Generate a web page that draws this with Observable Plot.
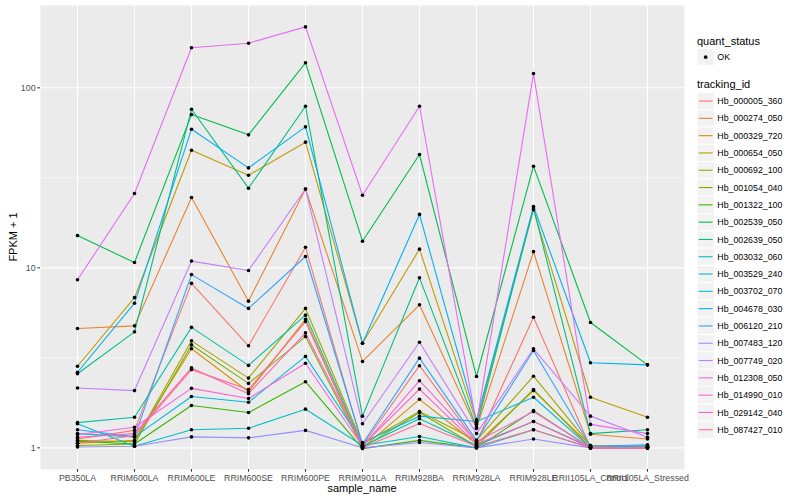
<!DOCTYPE html>
<html><head><meta charset="utf-8">
<script src="https://cdn.jsdelivr.net/npm/d3@7"></script>
<script src="https://cdn.jsdelivr.net/npm/@observablehq/plot@0.6"></script>
<style>body{margin:0;background:#fff}#chart{width:800px;height:500px}</style>
</head><body><div id="chart"></div>
<script>
const samples = ["PB350LA","RRIM600LA","RRIM600LE","RRIM600SE","RRIM600PE","RRIM901LA","RRIM928BA","RRIM928LA","RRIM928LE","RRII105LA_Control","RRII105LA_Stressed"];
const trackingIds = ["Hb_000005_360","Hb_000274_050","Hb_000329_720","Hb_000654_050","Hb_000692_100","Hb_001054_040","Hb_001322_100","Hb_002539_050","Hb_002639_050","Hb_003032_060","Hb_003529_240","Hb_003702_070","Hb_004678_030","Hb_006120_210","Hb_007483_120","Hb_007749_020","Hb_012308_050","Hb_014990_010","Hb_029142_040","Hb_087427_010"];
const colors = ["#F8766D","#EA8331","#D89000","#C09B00","#A3A500","#7CAE00","#39B600","#00BB4E","#00BF7D","#00C1A3","#00BFC4","#00BAE0","#00B0F6","#35A2FF","#9590FF","#C77CFF","#E76BF3","#FA62DB","#FF62BC","#FF6C91"];

const Hb_000005_360 = [1.12, 1.25, 8.2, 3.69, 13.0, 1.03, 2.86, 1.07, 5.31, 1.0, 1.0];
const Hb_000274_050 = [4.6, 4.76, 24.6, 6.53, 27.4, 3.02, 6.23, 1.28, 12.3, 1.19, 1.12];
const Hb_000329_720 = [1.06, 1.1, 3.55, 2.05, 5.17, 1.0, 1.86, 1.05, 2.08, 1.03, 1.02];
const Hb_000654_050 = [2.84, 6.83, 45, 32.7, 49.9, 3.81, 12.7, 1.38, 21.0, 1.91, 1.48];
const Hb_000692_100 = [1.1, 1.08, 3.93, 2.44, 5.95, 1.05, 1.59, 1.1, 2.5, 1.03, 1.0];
const Hb_001054_040 = [1.03, 1.05, 3.73, 2.28, 4.15, 1.0, 1.57, 1.02, 2.11, 1.0, 1.0];
const Hb_001322_100 = [1.09, 1.05, 1.72, 1.57, 2.33, 0.99, 1.1, 1.0, 1.61, 1.0, 1.0];
const Hb_002539_050 = [15.1, 10.7, 71, 54.8, 137.7, 14.06, 42.6, 2.49, 36.7, 4.97, 2.89];
const Hb_002639_050 = [2.58, 4.41, 76, 27.7, 79, 1.5, 8.8, 1.3, 21.5, 1.2, 1.26];
const Hb_003032_060 = [1.38, 1.48, 4.67, 2.87, 5.46, 1.02, 1.45, 1.03, 1.4, 1.01, 1.01];
const Hb_003529_240 = [1.36, 1.02, 1.26, 1.285, 1.64, 1.03, 1.155, 1.0, 1.26, 1.0, 1.0];
const Hb_003702_070 = [1.2, 1.15, 1.93, 1.79, 3.22, 1.07, 1.5, 1.4, 1.91, 1.0, 1.03];
const Hb_004678_030 = [2.63, 6.36, 58.9, 35.9, 60.7, 3.81, 19.8, 1.43, 21.9, 2.97, 2.89];
const Hb_006120_210 = [1.26, 1.15, 9.17, 5.95, 11.56, 1.05, 3.15, 1.1, 3.47, 1.02, 1.04];
const Hb_007483_120 = [1.01, 1.02, 1.15, 1.136, 1.25, 1.0, 1.07, 1.0, 1.12, 1.0, 1.0];
const Hb_007749_020 = [2.15, 2.08, 10.9, 9.66, 27.4, 1.36, 3.86, 1.2, 3.55, 1.5, 1.145];
const Hb_012308_050 = [8.58, 25.9, 167, 177, 218, 25.3, 79, 1.35, 120, 1.35, 1.2];
const Hb_014990_010 = [1.185, 1.3, 2.14, 1.88, 2.95, 1.02, 2.36, 1.08, 1.59, 1.0, 1.0];
const Hb_029142_040 = [1.145, 1.2, 2.78, 2.0, 4.35, 1.03, 2.12, 1.05, 1.4, 1.0, 1.0];
const Hb_087427_010 = [1.06, 1.17, 2.72, 2.11, 5.03, 1.0, 1.365, 1.02, 1.26, 1.0, 1.0];

const majorTicks = [1, 10, 100];
const minorTicks = [Math.sqrt(10), Math.sqrt(10) * 10];
const quantStatus = ["OK"];

const seriesValues = [Hb_000005_360, Hb_000274_050, Hb_000329_720, Hb_000654_050, Hb_000692_100, Hb_001054_040, Hb_001322_100, Hb_002539_050, Hb_002639_050, Hb_003032_060, Hb_003529_240, Hb_003702_070, Hb_004678_030, Hb_006120_210, Hb_007483_120, Hb_007749_020, Hb_012308_050, Hb_014990_010, Hb_029142_040, Hb_087427_010];

const rows = [];
trackingIds.forEach((id, i) => {
  seriesValues[i].forEach((v, j) => rows.push({id, sample: samples[j], value: v, status: "OK"}));
});

const FONT = "'Liberation Sans', Arial, Helvetica, sans-serif";
const W = 800, H = 500, ML = 40, MR = 116, MT = 5, MB = 31;

const chart = Plot.plot({
  width: W, height: H,
  marginLeft: ML, marginRight: MR, marginTop: MT, marginBottom: MB,
  style: {fontFamily: FONT, fontSize: "8.8px", color: "#4D4D4D", background: "white", overflow: "visible"},
  x: {type: "point", domain: samples, padding: 0.6, label: null},
  y: {type: "log", domain: [0.758, 286.6], label: null},
  color: {domain: trackingIds, range: colors},
  marks: [
    Plot.frame({fill: "#EBEBEB", stroke: "none"}),
    Plot.ruleY(minorTicks, {stroke: "white", strokeWidth: 0.55}),
    Plot.ruleY(majorTicks, {stroke: "white", strokeWidth: 1.1}),
    Plot.ruleX(samples, {stroke: "white", strokeWidth: 1.1}),
    Plot.line(rows, {x: "sample", y: "value", z: "id", stroke: "id", strokeWidth: 1.1}),
    Plot.dot(rows, {x: "sample", y: "value", fill: "black", r: 1.8}),
    Plot.axisY(majorTicks, {tickSize: 2.75, tickPadding: 2.2, tickFormat: d => String(d), label: null, fontSize: 8.8, stroke: "#333333", fill: "#4D4D4D"}),
    Plot.axisX(samples, {tickSize: 2.75, tickPadding: 2.2, label: null, fontSize: 8.8, stroke: "#333333", fill: "#4D4D4D"})
  ]
});
document.getElementById("chart").appendChild(chart);

const svg = d3.select(chart);
// axis titles
svg.append("text").attr("x", (ML + W - MR) / 2).attr("y", 492).attr("text-anchor", "middle")
  .attr("font-family", FONT).attr("font-size", 11).attr("fill", "black").text("sample_name");
svg.append("text").attr("transform", `translate(17,${(MT + H - MB) / 2}) rotate(-90)`).attr("text-anchor", "middle")
  .attr("font-family", FONT).attr("font-size", 11).attr("fill", "black").text("FPKM + 1");

// legends
const lx = 697, key = 17.3;
const lg = svg.append("g").attr("font-family", FONT).attr("text-anchor", "start");
lg.append("text").attr("x", lx).attr("y", 44.5).attr("font-size", 11).attr("fill", "black").attr("text-anchor", "start").text("quant_status");
quantStatus.forEach((q, i) => {
  const y0 = 48.5 + i * key;
  lg.append("rect").attr("x", lx).attr("y", y0).attr("width", key).attr("height", key).attr("fill", "#F2F2F2").attr("stroke", "white");
  lg.append("circle").attr("cx", lx + key / 2).attr("cy", y0 + key / 2).attr("r", 1.8).attr("fill", "black");
  lg.append("text").attr("x", lx + key + 3).attr("y", y0 + key / 2 + 3.1).attr("font-size", 8.8).attr("fill", "black").attr("text-anchor", "start").text(q);
});
lg.append("text").attr("x", lx).attr("y", 88).attr("font-size", 11).attr("fill", "black").attr("text-anchor", "start").text("tracking_id");
trackingIds.forEach((id, i) => {
  const y0 = 92.4 + i * key;
  lg.append("rect").attr("x", lx).attr("y", y0).attr("width", key).attr("height", key).attr("fill", "#F2F2F2").attr("stroke", "white");
  lg.append("line").attr("x1", lx + 1.7).attr("x2", lx + key - 1.7).attr("y1", y0 + key / 2).attr("y2", y0 + key / 2)
    .attr("stroke", colors[i]).attr("stroke-width", 1.1);
  lg.append("text").attr("x", lx + key + 3).attr("y", y0 + key / 2 + 3.1).attr("font-size", 8.8).attr("fill", "black").attr("text-anchor", "start").text(id);
});
</script>
</body></html>
